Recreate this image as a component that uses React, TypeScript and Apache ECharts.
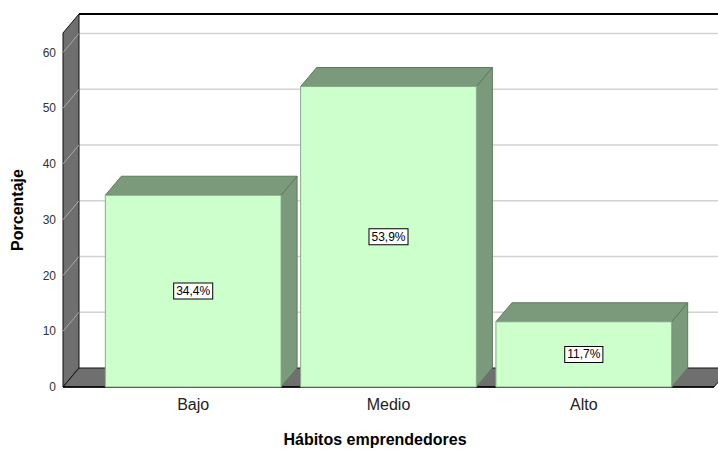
import React, { useEffect, useRef } from 'react';
import * as echarts from 'echarts';

const categories = ['Bajo', 'Medio', 'Alto'];
const percentages = [34.4, 53.9, 11.7];
const yTicks = [0, 10, 20, 30, 40, 50, 60];
const categoryPositions = [0, 1, 2];

const DX = 16;
const DY = -19;
const FONT = '"Liberation Sans", Arial, sans-serif';

const fmt = (v: number) => v.toFixed(1).replace('.', ',') + '%';

export default function App() {
  const ref = useRef<HTMLDivElement>(null);

  useEffect(() => {
    const chart = echarts.init(ref.current!, null, { renderer: 'svg' });

    const renderWalls = (params: any, api: any) => {
      const cs = params.coordSys;
      const x0 = cs.x;
      const x1 = cs.x + cs.width;
      const yT = cs.y;
      const yB = cs.y + cs.height;
      const children: any[] = [];
      children.push({
        type: 'rect',
        shape: { x: x0 + DX, y: yT + DY, width: cs.width + 20, height: cs.height },
        style: { fill: '#ffffff' },
      });
      yTicks.forEach((t) => {
        if (t === 0) return;
        const y = api.coord([0, t])[1];
        children.push({
          type: 'line',
          shape: { x1: x0 + DX, y1: y + DY, x2: x1 + DX + 20, y2: y + DY },
          style: { stroke: '#d2d2d2', lineWidth: 1.5 },
        });
      });
      children.push({
        type: 'polygon',
        shape: { points: [[x0, yT], [x0 + DX, yT + DY], [x0 + DX, yB + DY], [x0, yB]] },
        style: { fill: '#6f6f6f', stroke: '#111', lineWidth: 1 },
      });
      children.push({
        type: 'polygon',
        shape: { points: [[x0, yB], [x0 + DX, yB + DY], [x1 + DX, yB + DY], [x1, yB]] },
        style: { fill: '#6f6f6f', stroke: '#111', lineWidth: 1 },
      });
      yTicks.forEach((t) => {
        if (t === 0) return;
        const y = api.coord([0, t])[1];
        children.push({
          type: 'line',
          shape: { x1: x0, y1: y, x2: x0 + DX, y2: y + DY },
          style: { stroke: '#a9a9a9', lineWidth: 1 },
        });
      });
      children.push({
        type: 'line',
        shape: { x1: x0 + DX, y1: yT + DY, x2: x1 + DX + 20, y2: yT + DY },
        style: { stroke: '#000', lineWidth: 2 },
      });
      children.push({
        type: 'line',
        shape: { x1: x0, y1: yB, x2: x1, y2: yB },
        style: { stroke: '#000', lineWidth: 1.5 },
      });
      return { type: 'group', children };
    };

    const renderBars = (params: any, api: any) => {
      const c = api.value(0);
      const v = api.value(1);
      const pTL = api.coord([c - 0.45, v]);
      const pBR = api.coord([c + 0.45, 0]);
      const xl = pTL[0];
      const yt = pTL[1];
      const xr = pBR[0];
      const yb = pBR[1];
      return {
        type: 'group',
        children: [
          {
            type: 'polygon',
            shape: { points: [[xr, yt], [xr + DX, yt + DY], [xr + DX, yb + DY], [xr, yb]] },
            style: { fill: '#7b9a7b', stroke: '#5e7a5e', lineWidth: 1 },
          },
          {
            type: 'polygon',
            shape: { points: [[xl, yt], [xl + DX, yt + DY], [xr + DX, yt + DY], [xr, yt]] },
            style: { fill: '#7b9a7b', stroke: '#5e7a5e', lineWidth: 1 },
          },
          {
            type: 'rect',
            shape: { x: xl, y: yt, width: xr - xl, height: yb - yt },
            style: { fill: '#ccffcc', stroke: '#8aaa8a', lineWidth: 1 },
          },
          {
            type: 'text',
            x: (xl + xr) / 2,
            y: (yt + yb) / 2,
            style: {
              text: fmt(v),
              fill: '#000',
              font: `12px ${FONT}`,
              align: 'center',
              verticalAlign: 'middle',
              backgroundColor: '#ffffff',
              borderColor: '#000',
              borderWidth: 1,
              padding: [2, 2, 1, 2],
            },
          },
        ],
      };
    };

    chart.setOption({
      animation: false,
      grid: { left: 63, right: 4, top: 33, bottom: 61.5 },
      xAxis: {
        type: 'value',
        min: -2 / 3,
        max: 8 / 3,
        axisLine: { show: false },
        axisTick: { show: false },
        splitLine: { show: false },
        axisLabel: {
          customValues: categoryPositions,
          formatter: (val: number) => categories[Math.round(val)] ?? '',
          fontSize: 16,
          fontFamily: FONT,
          color: '#222',
          margin: 9,
        },
        name: 'Hábitos emprendedores',
        nameLocation: 'middle',
        nameGap: 44,
        nameTextStyle: {
          fontWeight: 'bold',
          fontSize: 16,
          fontFamily: FONT,
          color: '#000',
          padding: [0, 27, 0, 0],
        },
      },
      yAxis: {
        type: 'value',
        min: 0,
        max: 63.5,
        interval: 10,
        axisLine: { show: false },
        axisTick: { show: false },
        splitLine: { show: false },
        axisLabel: {
          customValues: yTicks,
          fontSize: 12,
          fontFamily: FONT,
          color: '#333',
          margin: 7,
        },
        name: 'Porcentaje',
        nameLocation: 'middle',
        nameGap: 38,
        nameTextStyle: {
          fontWeight: 'bold',
          fontSize: 16,
          fontFamily: FONT,
          color: '#000',
        },
      },
      series: [
        {
          type: 'custom',
          renderItem: renderWalls,
          data: [[0, 0]],
          z: 1,
          silent: true,
          clip: false,
        },
        {
          type: 'custom',
          renderItem: renderBars,
          data: percentages.map((v, i) => [categoryPositions[i], v]),
          z: 2,
          clip: false,
        },
      ],
    });

    return () => chart.dispose();
  }, []);

  return (
    <div
      ref={ref}
      style={{ position: 'fixed', left: 0, top: 0, width: 718, height: 452, background: '#fff' }}
    />
  );
}
